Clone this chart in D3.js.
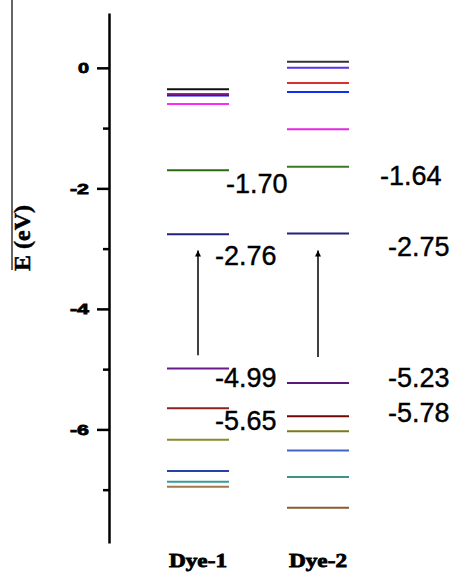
<!DOCTYPE html>
<html>
<head>
<meta charset="utf-8">
<script src="https://cdn.jsdelivr.net/npm/d3@7"></script>
<style>
	body { margin: 0; background: #fff; }
	svg { display: block; }
</style>
</head>
<body>
<script>
// energy levels in eV, top to bottom
let dyes = 		['Dye-1', 'Dye-2']
let dye1Levels = 	[-0.355, -0.433, -0.461, -0.599, -1.70, -2.76, -4.99, -5.65, -6.17, -6.69, -6.87, -6.95]
let dye1Colors = 	['#111111', '#e01818', '#1818f0', '#ff28ff', '#2f6a10', '#22227a', '#6a1a8a', '#8a2222', '#8a8a30', '#2444a4', '#3a9a9a', '#a07848']
let dye2Levels = 	[0.103, 0.0, -0.25, -0.40, -1.02, -1.64, -2.75, -5.23, -5.78, -6.03, -6.35, -6.79, -7.30]
let dye2Colors = 	['#333333', '#5a30f0', '#d83030', '#1030f0', '#e028e0', '#3a7a20', '#22227a', '#5a1a7a', '#700808', '#7a7a18', '#4464c4', '#409090', '#8a5a30']

// labelled HOMO / LUMO values
let dye1Labels = 	[-1.70, -2.76, -4.99, -5.65]
let dye2Labels = 	[-1.64, -2.75, -5.23, -5.78]

// excitation arrows [from, to] in eV
let arrows = 		[[-4.77, -3.03], [-4.80, -3.03]]

let yTicks = 		[0, -2, -4, -6]
let yMinor = 		[-1, -3, -5, -7]

let W = 457, H = 575

let svg = d3.select('body').append('svg')
	.attr('width', W)
	.attr('height', H)

let y = d3.scaleLinear().domain([-7.885, 0.91]).range([543, 13])
let x = d3.scalePoint().domain(dyes).range([198, 318])
let halfW = 31

// axis
svg.append('g')
	.attr('transform', 'translate(109,0)')
	.call(d3.axisLeft(y).tickValues(yTicks).tickSize(12).tickSizeOuter(0).tickFormat(d3.format('d')))
	.call(g => g.select('.domain').attr('stroke-width', 2.5))
	.call(g => g.selectAll('.tick line').attr('stroke-width', 2.5))
	.call(g => g.selectAll('.tick text')
		.attr('font-family', 'Liberation Sans, Arial, sans-serif')
		.attr('font-weight', 'bold')
		.style('font-size', '15px')
		.attr('stroke', '#000').attr('stroke-width', 0.8)
		.attr('x', -20)
		.attr('textLength', d => d == 0 ? 11 : 19)
		.attr('lengthAdjust', 'spacingAndGlyphs')
		.text(d => d == 0 ? '0' : '-' + Math.abs(d)))

svg.append('g')
	.attr('transform', 'translate(109,0)')
	.call(d3.axisLeft(y).tickValues(yMinor).tickSize(6).tickFormat(''))
	.call(g => g.select('.domain').remove())
	.call(g => g.selectAll('.tick line').attr('stroke-width', 2.5))

// y label with thin line above it
svg.append('line')
	.attr('x1', 12).attr('x2', 12)
	.attr('y1', 0).attr('y2', 270)
	.attr('stroke', '#000').attr('stroke-width', 1.2)

svg.append('text')
	.attr('transform', 'translate(30,238) rotate(-90)')
	.attr('text-anchor', 'middle')
	.attr('font-family', 'Liberation Serif, Times New Roman, serif')
	.attr('font-weight', 'bold')
	.attr('font-size', 24)
	.attr('stroke', '#000').attr('stroke-width', 0.5)
	.text('E (eV)')

// levels
let levelSets = [
	{dye: 'Dye-1', levels: dye1Levels, colors: dye1Colors},
	{dye: 'Dye-2', levels: dye2Levels, colors: dye2Colors}
]
levelSets.forEach(set => {
	svg.append('g').selectAll('line')
		.data(set.levels)
		.join('line')
		.attr('x1', x(set.dye) - halfW)
		.attr('x2', x(set.dye) + halfW)
		.attr('y1', d => y(d))
		.attr('y2', d => y(d))
		.attr('stroke', (d, i) => set.colors[i])
		.attr('stroke-width', 2)
})

// value labels: offsets [x, dy] (layout only)
let dye1LabelPos = [[226, 23], [215, 31], [215, 18.5], [215, 22]]
let dye2LabelPos = [[380, 18], [388, 22], [388, 4], [388, 6]]

let labelSets = [[dye1Labels, dye1LabelPos], [dye2Labels, dye2LabelPos]]
labelSets.forEach(([vals, pos]) => {
	svg.append('g').selectAll('text')
		.data(vals)
		.join('text')
		.attr('x', (d, i) => pos[i][0])
		.attr('y', (d, i) => y(d) + pos[i][1])
		.attr('font-family', 'Liberation Sans, Arial, sans-serif')
		.attr('font-size', 27)
		.attr('fill', '#000')
		.attr('stroke', '#000').attr('stroke-width', 0.4)
		.text(d => d.toFixed(2))
})

// arrows
let defs = svg.append('defs')
defs.append('marker')
	.attr('id', 'head')
	.attr('viewBox', '0 0 10 10')
	.attr('refX', 10).attr('refY', 5)
	.attr('markerWidth', 11).attr('markerHeight', 6)
	.attr('markerUnits', 'userSpaceOnUse')
	.attr('orient', 'auto')
	.append('path')
	.attr('d', 'M0,0 L10,5 L0,10 Z')
	.attr('fill', '#000')

svg.append('g').selectAll('line')
	.data(arrows)
	.join('line')
	.attr('x1', (d, i) => x(dyes[i]))
	.attr('x2', (d, i) => x(dyes[i]))
	.attr('y1', d => y(d[0]))
	.attr('y2', d => y(d[1]))
	.attr('stroke', '#000')
	.attr('stroke-width', 1.5)
	.attr('marker-end', 'url(#head)')

// dye names
svg.append('g').selectAll('text')
	.data(dyes)
	.join('text')
	.attr('x', d => x(d))
	.attr('y', 567)
	.attr('text-anchor', 'middle')
	.attr('font-family', 'Liberation Serif, Times New Roman, serif')
	.attr('font-weight', 'bold')
	.attr('font-size', 19)
	.attr('stroke', '#000').attr('stroke-width', 0.8)
	.attr('textLength', 58)
	.attr('lengthAdjust', 'spacingAndGlyphs')
	.text(d => d)
</script>
</body>
</html>
